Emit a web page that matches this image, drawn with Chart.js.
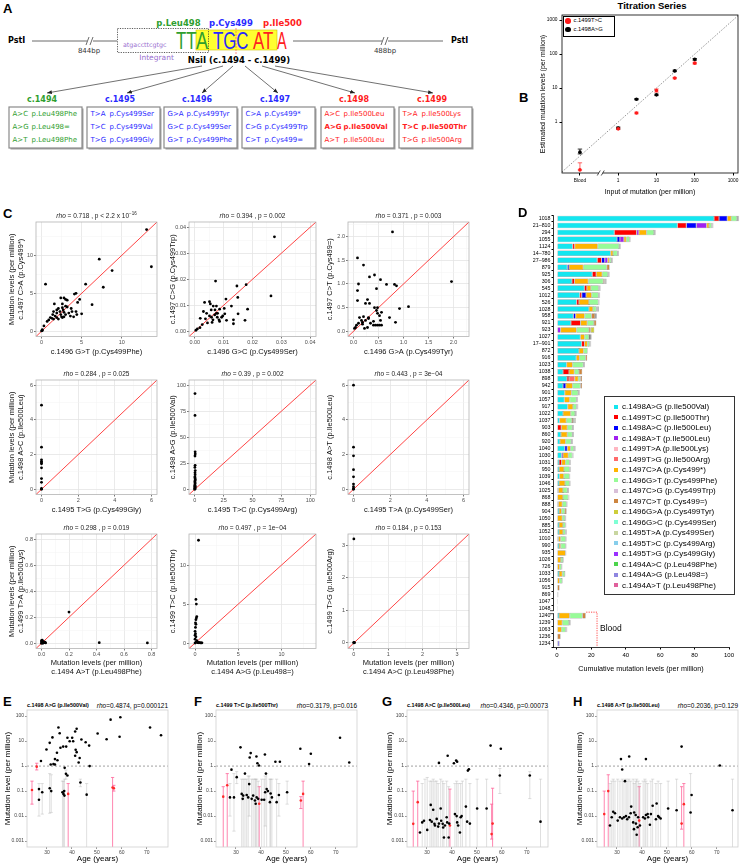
<!DOCTYPE html>
<html>
<head>
<meta charset="utf-8">
<title>Figure</title>
<script src="https://cdn.jsdelivr.net/npm/chart.js@4.4.1/dist/chart.umd.min.js"></script>
<style>
  html, body { margin: 0; padding: 0; background: #fff; }
  #page { position: relative; width: 742px; height: 864px; overflow: hidden; font-family: "Liberation Sans", Arial, sans-serif; }
  .t { position: absolute; white-space: nowrap; line-height: 1; }
  canvas { position: absolute; }
</style>
</head>
<body>
<div id="page">
<svg id="diagram" width="480" height="160" style="position:absolute;left:0;top:0">
  <defs>
    <marker id="head" viewBox="0 0 10 10" refX="10" refY="5" markerWidth="7" markerHeight="7" orient="auto">
      <path d="M0,1 L10,5 L0,9 z" fill="#222"/>
    </marker>
  </defs>
  <line x1="32" y1="41" x2="117" y2="41" stroke="#444" stroke-width="0.8"/>
  <line x1="293" y1="41" x2="443" y2="41" stroke="#444" stroke-width="0.8"/>
  <rect x="87" y="36" width="6" height="10" fill="#fff"/>
  <path d="M86,45 L89,37 M90,45 L93,37" stroke="#444" stroke-width="0.8"/>
  <rect x="382" y="36" width="6" height="10" fill="#fff"/>
  <path d="M381,45 L384,37 M385,45 L388,37" stroke="#444" stroke-width="0.8"/>
  <rect x="196" y="30" width="81" height="20" fill="#ffff30" stroke="#cfc200" stroke-width="0.6"/>
  <rect x="117.5" y="28.5" width="91" height="24" fill="none" stroke="#333" stroke-width="0.8" stroke-dasharray="1.2,1.2"/>
  <line x1="236" y1="28" x2="236" y2="54" stroke="#ff5a5a" stroke-width="0.7" stroke-dasharray="2,1"/>
  <g stroke="#333" stroke-width="0.7" marker-end="url(#head)">
    <line x1="202" y1="66" x2="47" y2="93"/>
    <line x1="223" y1="66" x2="127" y2="93"/>
    <line x1="233" y1="66" x2="202" y2="93"/>
    <line x1="245" y1="66" x2="278" y2="93"/>
    <line x1="262" y1="66" x2="355" y2="93"/>
    <line x1="275" y1="66" x2="433" y2="93"/>
  </g>
  <g id="boxes"></g>
</svg>
</div>
<script>
// ---------- Panel B: titration series ----------
const bInput = [0.1, 1, 3, 10, 30, 100];          // 0.1 is the "Blood" slot
const bT1499C = [0.039, 0.63, 1.85, 8.5, 19.6, 54];
const bT1499CLo = [0.039, 0.6, 1.75, 7.6, 18.8, 51];
const bT1499CHi = [0.063, 0.67, 1.95, 9.4, 20.5, 57];
const bA1498G = [0.13, 0.67, 4.7, 6.3, 32, 70];
const bA1498GLo = [0.115, 0.63, 4.5, 6.0, 30.5, 66];
const bA1498GHi = [0.16, 0.71, 4.9, 6.6, 33.5, 74];
const bXTicks = [0.1, 1, 10, 100, 1000];
const bYTicks = [1, 10, 100, 1000];

// ---------- Panel C: pairwise scatter ----------
const c11x = [13.1,7.2,8.8,13.7,7.7,5.5,0.5,6.3,4.3,4.1,4.75,5.0,4.0,3.6,4.3,2.4,2.8,3.0,3.2,2.6,1.6,3.0,3.2,2.6,2.1,1.9,1.5,2.3,2.8,3.4,1.4,1.7,2.4,2.5,2.6,2.8,1.9,1.1,1.3,0.9,1.5,2.1,0.7,0.3,0.1,0,0.1,3.7,4.4,3.0,3.8,2.7,1.9,4.5];
const c11y = [13.4,9.5,8.0,8.5,5.8,6.2,6.2,3.5,5.0,4.9,4.2,2.3,1.9,2.0,2.6,4.4,4.4,4.2,4.1,3.6,3.6,3.3,3.2,3.1,3.0,2.8,2.6,2.6,2.5,2.4,2.2,2.0,2.2,1.9,1.8,1.9,1.8,1.8,1.7,1.5,1.6,1.6,1.3,0.7,0.2,0.05,0.1,3.0,2.2,2.2,2.6,2.8,2.4,3.8];
const c12x = [0.0276,0.0072,0.0146,0.0178,0.0264,0.0149,0.0108,0.0034,0.0051,0.0054,0.0064,0.0075,0.0127,0.0102,0.0183,0.0086,0.007,0.0057,0.003,0.0041,0.0079,0.0104,0.0069,0.0051,0.015,0.0058,0.0078,0.0097,0.0019,0.0037,0.0063,0.0084,0.011,0.0134,0.0134,0.0174,0.0086,0.006,0.0044,0.0026,0.0018,0.0009,0.0004,0.0075,0.0093];
const c12y = [0.0363,0.0193,0.0174,0.0179,0.0136,0.013,0.0124,0.0111,0.0114,0.0105,0.0097,0.0097,0.0097,0.0088,0.0085,0.0085,0.0082,0.0082,0.0076,0.0069,0.0069,0.0067,0.0063,0.0059,0.0067,0.0054,0.0054,0.0059,0.005,0.0048,0.0044,0.0044,0.0042,0.0044,0.0029,0.0042,0.0038,0.0034,0.0032,0.0026,0.0014,0.0009,0.0004,0.0069,0.0054];
const c13x = [0.78,1.96,0.2,0.32,0.42,0.54,0.46,0.66,0.82,0.86,0.28,0.32,0.24,1.1,0.92,0.72,0.84,0.42,0.48,0.46,0.48,0.52,0.54,0.56,0.52,0.48,0.44,0.4,0.4,0.34,0.3,0.2,0.24,0.18,0.28,0.22,0.56,0.08,0.1,0.08,0.08,0.12,0.16,0.06,0.02,0.04,0.1,0.18,0.3];
const c13y = [2.1,1.05,1.4,1.15,1.19,1.09,0.9,0.99,0.99,0.96,0.67,0.59,0.59,0.52,0.48,0.29,0.19,0.5,0.5,0.44,0.38,0.33,0.23,0.13,0.13,0.13,0.13,0.13,0.21,0.17,0.27,0.31,0.23,0.15,0.08,0.06,0.4,1.55,1.0,0.86,0.65,0.29,0.23,0.13,0.06,0.08,0.17,0.19,0.29];
const c21x = [0,0,0,0,0,0,0,0,0,0,0];
const c21y = [4.85,2.43,1.7,1.6,1.53,1.47,1.24,0.62,0.4,0.05,0];
const c22x = [0.2,0.2,0.3,0.4,0.2,0.3,0.1,0.4,0.2,0.3,0.1,0.2,0.3,0.4,0.2,0.1,0.3,0.2,0.1,0.2,0.3,0.1,0.2,0,0.1];
const c22y = [92,71,36,34,32,23,21,18,16,14,12,11,10,9,8,7,6,5,4,3,2.5,2,1,0.5,0];
const c23x = [0,0,0,0,0,0,0,0,0];
const c23y = [6.0,2.43,1.93,1.13,0.72,0.3,0.15,0.05,0];
const c31x = [0.2,0.42,0.77,0,0,0.01,0.02,0.03,0,0.01,0.005,0.015,0.025,0.01];
const c31y = [0.24,0.005,0.003,0.02,0.01,0.015,0.005,0.003,0,0,0.025,0.01,0.008,0.005];
const c32x = [0.4,0.1,0.15,0.2,0.15,0.1,0.05,0.1,0.05,0,0.05,0,0.1,0,0.2,0.3,0.5,0.6,0.3,0.1,0,0.7,0.8,0.45];
const c32y = [13.2,5.6,5.0,3.4,3.2,3.0,2.6,2.4,2.0,1.5,1.2,1.0,0.8,0.5,0.3,0.1,0.05,0.03,0.05,0.1,0,0.02,0.03,0.04];
const c33x = [0,0,0,0.02];
const c33y = [3.2,0.02,0,0.01];

// ---------- Panel D: cumulative levels per sample ----------
const dLabels = ['1018','21–810','294','1055','1124','14–780','27–986','879','925','306','545','1012','526','1028','958','921','923','1027','17–901','872','916','1023','1038','898','942','901','1057','917','1022','1037','903','860','920','1040','1030','1031','950','1039','1046','1025','868','888','904','1050','885','1052','1010','990','935','1026','726','1033','1056','915','869','1047','1048','1240','1239','1063','1236','1234'];
const dAG98 = [91.3,70,33.3,34.9,9.1,31.2,23.4,6,20.5,8.7,15.9,13.2,11.4,18.6,9.5,8.1,0,13.6,14.3,12.8,11.2,5.6,3.5,5.8,3.5,4.5,4.3,6.2,3.5,1.5,0,2.3,1.7,4.5,2.7,1.2,1.2,1.5,1.2,0.8,0,0.8,1.2,0,1.2,1.2,0.8,1.2,0,0,0,1.2,0,0,0,0,0,1.2,0,0,0,0];
const dTC99 = [2.9,5.2,13,0,1.2,0,2.5,0,2.3,1.5,1.5,1.2,1.4,0,0,5.6,0,0,1.7,0,0,0,3.5,1.2,0,0,0,0,0,0,2.5,0,0,0,0,1.5,0,0,0,0,0,0,0,0,0,0,0,0,0,0,0,0,0,0,0,0,0,0,0,0,0,0];
const dAC98 = [4.8,5.8,0,1.7,0,0,1.9,1,0,0,0,2.5,0,0,1.4,0,0,0,0,0,0,0,0,0,1.7,0,0,0,0,0,0,0,0,1.5,0,0,0,0,0,0,0,0,0,0,0,0,0,0,0,0,0,0,0,0,0,0,0,0,0,0,0,0];
const dAT98 = [0,6,1.3,2.3,0,0,1.7,0,0,0,0,0,0,0,0,0,2.1,0,0,0,0,0,0,0,0,0,0,0,0,0,0,0,0,0,0.8,0,0,0,0,0,0,0,0,0,0,0,0,0,0,0,0,0,0,0,0,0,0,0,0,0,0,0];
const dTG99 = [0,0,0,0,0,0,0,0,0,0,0,0,0,0,0,0,0,0,0,0,0,0,0,3.3,0,0,0,0,0,0,0,0,0,0,0,0,0,0,0,0,0,0,0,0,0,0,0,0,0,0,0,0,0,0,0,0,0,0,0,0,0,0];
const dCA97 = [2.3,1.4,4.5,1.4,13.4,1.4,1.0,8.3,3.5,8,2.3,3.3,5.8,2.3,5.2,3.9,9.3,2.5,1.7,2.7,1.9,3.5,3.1,2.1,3.9,3.9,3.1,3.1,4.5,3.9,3.5,3.7,3.3,1.9,3.1,2.3,2.9,2.5,3.5,2.7,3.5,2.3,1.5,3.1,2.3,2.3,1.4,1.0,5.0,2.3,1.5,1.9,1.5,0,0,0,0,6.2,3.1,2.7,0,0];
const dGT96 = [3.3,1.5,4.3,1.9,12.4,2.5,1.0,13.6,3.3,8.7,4.6,3.9,5.4,2.0,4.0,3.9,7.2,2.5,1.2,2.3,3.5,6.2,2.7,1.2,4.5,3.9,3.9,2.1,2.5,3.3,2.9,2.9,3.3,1.9,2.3,2.3,3.3,3.3,2.7,2.5,3.1,2.5,1.9,1.5,1.5,1.5,2.9,2.9,0,1.2,1.2,1.5,1.5,0,0,0,0,7.4,3.9,2.3,0,0];
const dCT97 = [0.5,0.4,0.4,0.3,0.4,0.4,0.4,1.7,0.4,0.8,0.4,0.4,0.3,0.6,2.0,1.4,1.0,0.6,0.4,0,1.0,0.4,1.9,1.0,1.0,0.4,0.4,0.4,0.4,0.8,0.4,0.4,0.4,0.4,0.3,0.3,0.3,0.2,0.2,0.4,0.2,0.2,1.0,0.3,0.2,0.3,0.2,0.2,0.2,0.2,0.2,0.2,0.2,1.5,0.3,0.1,0.1,1.9,0.4,0.4,2.1,0];
const dGA96 = [0.4,0.3,0.3,0.2,0.3,0.3,0.3,0,0.3,0.6,0.3,0.3,0.3,0.5,0.5,0,2.1,0.5,0.3,0,0,0.3,0,0,0,0.3,0.3,0.3,0.3,0.6,0.3,0.3,0.3,0.3,0.3,0.3,0.3,0.2,0.2,0.3,0.2,0.2,0,0.3,0.2,0.3,0.2,0.2,0.2,0.2,0.2,0.1,0.2,0,0.3,0.1,0.05,0,0.3,0.3,0,0];
const dTA95 = [0.4,0.3,0.3,0.2,0.3,0.3,0.3,0,0.3,0.5,0.3,0.3,0.2,0.4,0.5,0,0,0.4,0.3,0,0,0.3,0,0,0,0.3,0.3,0.3,0.3,0.8,0.3,0.3,0.3,0.3,0.2,0.2,0.2,0.1,0.2,0.3,0.2,0.2,0,0.2,0.1,0.2,0.2,0.1,0.1,0.2,0.1,0.1,0.1,0,0.2,0.1,0.05,0,0.3,0.3,0,0];
const dAG94 = [0,0,0,0,0,0,0,0,0,0,0,0,0,0,0,0,0,0,0,0,0,0,0,0,0,0,0,0,0,0,0,0,0,0,0,0,0,0,0,0,0,0,0,0,0,0,0,0,0,0,0,0,0,0,0,0,0,0,0,0,0,1.5];
const dNone = dLabels.map(() => 0);   // variants with no visible contribution
const dNames = ['c.1498A>G (p.Ile500Val)','c.1499T>C (p.Ile500Thr)','c.1498A>C (p.Ile500Leu)','c.1498A>T (p.Ile500Leu)','c.1499T>A (p.Ile500Lys)','c.1499T>G (p.Ile500Arg)','c.1497C>A (p.Cys499*)','c.1496G>T (p.Cys499Phe)','c.1497C>G (p.Cys499Trp)','c.1497C>T (p.Cys499=)','c.1496G>A (p.Cys499Tyr)','c.1496G>C (p.Cys499Ser)','c.1495T>A (p.Cys499Ser)','c.1495T>C (p.Cys499Arg)','c.1495T>G (p.Cys499Gly)','c.1494A>C (p.Leu498Phe)','c.1494A>G (p.Leu498=)','c.1494A>T (p.Leu498Phe)'];
const dSeries = [dAG98, dTC99, dAC98, dAT98, dNone, dTG99, dCA97, dGT96, dNone, dCT97, dGA96, dNone, dTA95, dNone, dNone, dNone, dAG94, dNone];
const dColors = ['#14e6ef','#ff0000','#0000ff','#a020f0','#ffb6c1','#ff6a6a','#ffb400','#98fb98','#d8bfd8','#cd853f','#cdcd3a','#7fffd4','#c8d6a0','#87ceeb','#9b30ff','#4cd44c','#8f86e0','#e0609c'];
const dXTicks = [0, 20, 40, 60, 80, 100];

// ---------- Panels E-H: level vs age ----------
const ehXTicks = [30, 40, 50, 60, 70];
const ehYTicks = [0.001, 0.01, 0.1, 1, 10, 100];

const eAge = [55.5,59.4,71.3,75.7,59.1,53.9,50.3,34.6,35.1,32.2,31.1,29.8,27.6,38.2,40.1,41.9,41.3,43.8,45.5,46.9,39.1,40.5,36.5,37.7,35.4,34.0,41.5,41.9,41.3,43.1,42.7,33.2,34.2,32.6,31.5,33.2,37.1,47.1,26.8,26.8,28.1,31.1,31.7,36.2,36.6,37.0,36.9,37.6,38.2,43.4,45.9];
const eVal = [72,90,35,17,15,11.8,20,35,20.5,14,8.5,4.6,1.6,13.5,13.5,31,24,11.5,9,6.6,9.8,9.8,6.0,6.0,5.4,3.4,4.5,3.6,2.6,2.1,1.4,1.9,1.7,1.2,1.15,1.15,0.85,1.0,0.045,0.12,0.09,0.13,0.1,0.09,0.077,0.066,0.1,0.49,0.42,0.22,0.072];
const ePinkAge = [24.0,25.9,38.5,56.3,56.8];
const ePinkVal = [0.11,0.95,0.077,0.14,0.13];
const ePinkLo = [0.03,0.7,0,0,0.1];
const ePinkHi = [0.25,1.3,0.2,0.35,0.17];
const eBarAge = [26.8,28.1,31.1,31.7,36.2,36.6,37.0,37.6,43.4,45.9];
const eBarLo = [0.01,0.012,0.013,0.014,0,0,0,0.3,0.15,0];
const eBarHi = [0.2,0.2,0.5,0.45,0.25,0.25,0.3,0.7,0.3,0.2];

const fAge = [31.8,35.9,35.5,38.2,41.6,38.6,39.2,45.8,47.6,55.8,60.0,59.3,71.7,75.4,28.2,27.6,29.2,30.3,32.3,32.9,32.7,34.3,34.9,35.3,36.3,36.9,37.6,37.9,38.3,38.9,40.3,41.3,41.7,42.3,42.8,43.6,43.9,44.4,46.3,47.2,50.5,33.6,42.0];
const fVal = [5.6,3.3,2.2,2.4,2.9,1.3,1.05,1.5,1.5,4.9,3.1,1.2,13.5,1.4,0.72,0.056,0.056,0.36,0.077,0.066,0.049,0.07,0.056,0.19,0.049,0.066,0.042,0.031,0.056,0.049,0.045,0.045,0.09,0.12,0.1,0.036,0.08,0.056,0.036,0.07,0.09,0.5,0.5];
const fPinkAge = [24.9,26.5,39.3,56.0,56.9];
const fPinkVal = [0.06,0.17,0.031,0.042,0.077];
const fPinkLo = [0,0,0,0.02,0];
const fPinkHi = [0.15,0.5,0.15,0.06,0.25];
const fBarAge = [27.6,29.2,30.3,32.3,32.9,33.6,34.3,34.9,35.3,36.3,36.9,37.6,37.9,38.3,38.9,40.3,41.3,41.7,42.3,43.6,43.9,44.4,46.3,47.2,50.5];
const fBarLo = [0.01,0.0025,0.2,0,0,0,0,0,0.01,0,0,0,0,0,0,0,0,0.004,0,0,0,0,0,0.01,0.03];
const fBarHi = [0.2,0.5,0.6,0.3,0.3,0.3,0.3,0.4,0.4,0.3,0.3,0.3,0.3,0.3,0.25,0.3,0.3,0.4,0.5,0.3,0.3,0.3,0.3,0.2,0.25];

const gAge = [34.8,38.3,40.8,41.7,42.1,55.5,59.6,46.8,27.2,28.1,28.8,30.1,31.5,31.2,31.9,32.5,33.0,33.2,33.9,34.5,34.8,35.5,35.7,36.3,36.5,36.8,37.2,37.9,38.1,38.7,38.9,41.2,41.9,42.1,42.5,43.5,43.9,43.2,45.6,46.1,47.2,50.1,53.9,59.2,71.2,75.5,46.4];
const gVal = [1.34,2.6,1.3,1.66,1.5,6.6,4.9,0.75,0.0022,0.0056,0.0065,0.0028,0.028,0.007,0.006,0.018,0.0049,0.0042,0.0077,0.0038,0.005,0.02,0.0065,0.0049,0.0035,0.0014,0.0042,0.009,0.0056,0.0014,0.005,0.012,0.01,0.0056,0.0042,0.009,0.01,0.0022,0.024,0.006,0.005,0.02,0.02,0.42,0.42,0.006,0.66];
const gPinkAge = [24.5,26.3,39.2,55.9,56.3];
const gPinkVal = [0.0049,0.036,0.0042,0.0019,0.005];
const gPinkLo = [0,0,0,0.0012,0];
const gPinkHi = [0.1,0.25,0.12,0.03,0.13];
const gBarAge = [28.1,29.2,30.1,31.2,31.9,32.5,33.2,33.9,34.5,35.5,36.3,36.8,37.9,38.7,41.2,41.9,42.5,43.5,44.2,45.6,47.2,50.1,53.9,59.2,71.2,75.5];
const gBarLo = [0,0,0,0,0,0,0,0,0,0,0,0,0,0,0,0,0,0,0,0,0,0,0,0.08,0.05,0];
const gBarHi = [0.2,0.3,0.35,0.25,0.25,0.3,0.25,0.25,0.2,0.3,0.25,0.2,0.25,0.15,0.2,0.25,0.2,0.2,0.25,0.3,0.2,0.3,0.3,0.8,0.6,0.3];

const hAge = [31.6,34.9,41.6,55.9,71.2,32.1,27.2,27.9,28.5,29.2,30.3,31.2,32.1,32.8,33.2,33.6,34.1,34.8,35.5,35.7,36.5,36.8,36.9,37.5,37.6,37.9,38.3,38.5,39.2,40.5,41.2,41.6,42.3,42.5,43.2,43.6,44.3,45.6,45.9,46.5,46.9,47.5,50.5,53.9,59.5,59.9,76.3];
const hVal = [1.9,2.4,1.9,6.0,1.05,0.73,0.0042,0.009,0.015,0.013,0.0066,0.009,0.008,0.009,0.25,0.01,0.0075,0.009,0.013,0.024,0.0056,0.003,0.014,0.011,0.005,0.0018,0.0036,0.009,0.0042,0.009,0.008,0.011,0.012,0.009,0.0045,0.012,0.026,0.0075,0.032,0.01,0.009,0.008,0.02,0.017,0.014,0.07,0.017];
const hPinkAge = [24.9,26.5,38.9,55.9,56.8];
const hPinkVal = [0.012,0.1,0.0066,0.005,0.03];
const hPinkLo = [0,0,0,0.003,0];
const hPinkHi = [0.1,0.45,0.15,0.15,0.2];
const hBarAge = [27.2,27.9,28.5,29.2,30.3,31.2,32.1,32.8,33.6,34.1,34.8,35.5,36.5,36.9,37.5,37.9,38.5,39.2,40.5,41.2,41.6,42.3,43.6,44.3,45.6,46.5,47.5,50.5,53.9,59.5,76.3];
const hBarLo = [0,0,0,0,0,0,0,0,0,0,0,0,0,0,0,0,0,0,0,0,0,0,0,0,0,0,0,0,0,0,0];
const hBarHi = [0.2,0.25,0.3,0.25,0.3,0.25,0.3,0.25,0.3,0.25,0.3,0.25,0.3,0.2,0.25,0.3,0.25,0.2,0.25,0.3,0.25,0.2,0.25,0.3,0.2,0.25,0.2,0.25,0.3,0.5,0.3];

// ---------- helpers ----------
Chart.defaults.font.family = "'Liberation Sans', Arial, sans-serif";
Chart.defaults.color = '#000';
const page = document.getElementById('page');

function put(html, x, y, css, anchor, extra) {
  const d = document.createElement('div');
  d.className = 't';
  d.innerHTML = html;
  d.style.cssText = css || '';
  d.style.left = x + 'px';
  d.style.top = y + 'px';
  const ax = anchor === 'l' ? '0' : anchor === 'r' ? '-100%' : '-50%';
  d.style.transform = 'translate(' + ax + ',-50%)' + (extra || '');
  page.appendChild(d);
  return d;
}

// box: plot area l,t,r,b ; wy = y-axis width ; hx = x-axis height ; pt/pr = spare room top/right
function makeChart(box, config) {
  const left = box.l - box.wy, top = box.t - box.pt;
  const w = Math.round(box.r + box.pr - left), h = Math.round(box.b + box.hx - top);
  const cv = document.createElement('canvas');
  cv.width = w; cv.height = h;
  cv.style.left = left + 'px'; cv.style.top = top + 'px';
  cv.style.width = w + 'px'; cv.style.height = h + 'px';
  page.appendChild(cv);
  const o = config.options;
  o.responsive = false; o.animation = false; o.devicePixelRatio = 1;
  o.layout = {padding: {top: box.pt, right: box.pr, left: 0, bottom: 0}};
  o.plugins = Object.assign({legend: {display: false}, tooltip: {enabled: false}}, o.plugins || {});
  const zero = s => { s.paddingLeft = s.paddingRight = s.paddingTop = s.paddingBottom = 0; };
  o.scales.x.afterFit = s => { s.height = box.hx; zero(s); };
  o.scales.y.afterFit = s => { s.width = box.wy; zero(s); };
  return new Chart(cv, config);
}

const setTicks = vals => s => { s.ticks = vals.map(v => ({value: v})); };

const frame = (color, width) => ({
  id: 'frame',
  afterDatasetsDraw(chart) {
    const {ctx, chartArea: a} = chart;
    ctx.save();
    ctx.strokeStyle = color; ctx.lineWidth = width;
    ctx.strokeRect(a.left, a.top, a.right - a.left, a.bottom - a.top);
    ctx.restore();
  }
});

const diag = (color, width, dash) => ({
  id: 'diag',
  beforeDatasetsDraw(chart) {
    const {ctx, chartArea: a, scales: {x, y}} = chart;
    const v0 = Math.max(x.min, y.min), v1 = Math.min(x.max, y.max);
    ctx.save();
    ctx.beginPath(); ctx.rect(a.left, a.top, a.right - a.left, a.bottom - a.top); ctx.clip();
    ctx.strokeStyle = color; ctx.lineWidth = width; ctx.setLineDash(dash || []);
    ctx.beginPath();
    ctx.moveTo(x.getPixelForValue(v0), y.getPixelForValue(v0));
    ctx.lineTo(x.getPixelForValue(v1), y.getPixelForValue(v1));
    ctx.stroke();
    ctx.restore();
  }
});

// vertical interval bars stored on datasets as errLo / errHi (0 = down to the axis floor)
const errBars = {
  id: 'errBars',
  beforeDatasetsDraw(chart) {
    const {ctx, chartArea: a, scales: {x, y}} = chart;
    chart.data.datasets.forEach(ds => {
      if (!ds.errLo) return;
      ctx.save();
      ctx.strokeStyle = ds.errColor; ctx.lineWidth = ds.errWidth || 1;
      ds.data.forEach((p, i) => {
        const lo = ds.errLo[i], hi = ds.errHi[i];
        if (lo == null) return;
        const px = x.getPixelForValue(p.x);
        const y1 = lo > 0 ? Math.min(y.getPixelForValue(lo), a.bottom) : a.bottom;
        const y2 = Math.max(y.getPixelForValue(hi), a.top);
        const c = ds.errCap || 0;
        ctx.beginPath();
        ctx.moveTo(px, y1); ctx.lineTo(px, y2);
        if (c) {
          ctx.moveTo(px - c, y2); ctx.lineTo(px + c, y2);
          if (lo > 0) { ctx.moveTo(px - c, y1); ctx.lineTo(px + c, y1); }
        }
        ctx.stroke();
      });
      ctx.restore();
    });
  }
};

// ---------- Panel A (diagram, plain HTML/SVG) ----------
const aFont = "font-family:'DejaVu Sans',Verdana,sans-serif;";
const green = '#2e9e2e', blue = '#2a2aff', red = '#ff2020';
const aBoxes = [
  {x: 9, head: 'c.1494', col: green, rows: [['A>C','p.Leu498Phe'],['A>G','p.Leu498='],['A>T','p.Leu498Phe']], bold: -1},
  {x: 87, head: 'c.1495', col: blue, rows: [['T>A','p.Cys499Ser'],['T>C','p.Cys499Val'],['T>G','p.Cys499Gly']], bold: -1},
  {x: 164, head: 'c.1496', col: blue, rows: [['G>A','p.Cys499Tyr'],['G>C','p.Cys499Ser'],['G>T','p.Cys499Phe']], bold: -1},
  {x: 242, head: 'c.1497', col: blue, rows: [['C>A','p.Cys499*'],['C>G','p.Cys499Trp'],['C>T','p.Cys499=']], bold: -1},
  {x: 321, head: 'c.1498', col: red, rows: [['A>C','p.Ile500Leu'],['A>G','p.Ile500Val'],['A>T','p.Ile500Leu']], bold: 1},
  {x: 399, head: 'c.1499', col: red, rows: [['T>A','p.Ile500Lys'],['T>C','p.Ile500Thr'],['T>G','p.Ile500Arg']], bold: 1}
];
let boxSvg = '';
aBoxes.forEach(b => {
  boxSvg += `<rect x="${b.x + 1.5}" y="108.5" width="73" height="41" fill="#a0a0a0"/>`;
  boxSvg += `<rect x="${b.x}" y="107" width="73" height="41" fill="#fff" stroke="#8a8a8a" stroke-width="1.2"/>`;
});
document.getElementById('boxes').innerHTML = boxSvg;
aBoxes.forEach(b => {
  put(b.head, b.x + 33, 100, aFont + 'font-size:8px;font-weight:bold;color:' + b.col, 'c');
  b.rows.forEach((r, i) => {
    const y = 113.5 + i * 13.3;
    const w = i === b.bold ? 'font-weight:bold;' : '';
    put(r[0], b.x + 3.5, y, aFont + 'font-size:7px;color:' + b.col + ';' + w, 'l');
    put(r[1], b.x + 22.5, y, aFont + 'font-size:7px;color:' + b.col + ';' + w, 'l');
  });
});
put('A', 3, 8, 'font-size:13px;font-weight:bold', 'l');
put('PstI', 8, 41, aFont + 'font-size:8px;font-weight:bold', 'l');
put('PstI', 451, 41, aFont + 'font-size:8px;font-weight:bold', 'l');
put('844bp', 89, 51, aFont + 'font-size:7px;color:#333', 'c');
put('488bp', 385, 51, aFont + 'font-size:7px;color:#333', 'c');
put('atgaccttcgtgc', 123, 45, aFont + 'font-size:6.3px;color:#9a6fd0', 'l');
put('Integrant', 156.5, 57.5, aFont + 'font-size:7.5px;color:#9a6fd0', 'c');
const big = "font-family:'Liberation Sans',Arial,sans-serif;font-size:23px;transform-origin:left center;";
put('TT', 176, 41, big + 'color:' + green, 'l', ' scaleX(0.73)');
put('A', 196, 41, big + 'color:' + green, 'l', ' scaleX(0.78)');
put('TGC', 213, 41, big + 'color:' + blue, 'l', ' scaleX(0.73)');
put('AT', 253, 41, big + 'color:' + red, 'l', ' scaleX(0.73)');
put('A', 277, 41, big + 'color:' + red, 'l', ' scaleX(0.63)');
put('p.Leu498', 178.5, 23, aFont + 'font-size:8.5px;font-weight:bold;color:' + green, 'c');
put('p.Cys499', 231, 23, aFont + 'font-size:8.5px;font-weight:bold;color:' + blue, 'c');
put('p.Ile500', 282.5, 23, aFont + 'font-size:8.5px;font-weight:bold;color:' + red, 'c');
put('NsiI (c.1494 - c.1499)', 239, 59.5, aFont + 'font-size:8.5px;font-weight:bold', 'c');

// ---------- Panel B ----------
put('B', 519, 97, 'font-size:13px;font-weight:bold', 'l');
put('Titration Series', 652, 6, 'font-size:9.5px;font-weight:bold', 'c');
makeChart({l: 562, t: 15, r: 739, b: 173, wy: 32, hx: 27, pt: 5, pr: 3}, {
  type: 'scatter',
  data: {datasets: [
    {label: 'c.1499T>C', data: bInput.map((v, i) => ({x: v, y: bT1499C[i]})), backgroundColor: '#ff1a1a', borderWidth: 0, pointRadius: 1.8,
     errLo: bT1499CLo, errHi: bT1499CHi, errColor: '#ff4040', errCap: 2.2, errWidth: 0.8},
    {label: 'c.1498A>G', data: bInput.map((v, i) => ({x: v, y: bA1498G[i]})), backgroundColor: '#000', borderWidth: 0, pointRadius: 1.8,
     errLo: bA1498GLo, errHi: bA1498GHi, errColor: '#000', errCap: 2.2, errWidth: 0.8}
  ]},
  options: {scales: {
    x: {type: 'logarithmic', min: 0.034, max: 1349, afterBuildTicks: setTicks(bXTicks),
        ticks: {font: {size: 4.8}, padding: 2, autoSkip: false, maxRotation: 0, callback: v => v === 0.1 ? 'Blood' : String(v)},
        grid: {drawOnChartArea: false, tickLength: 2.5, color: '#000'}, border: {display: false},
        title: {display: true, text: 'Input of mutation (per million)', font: {size: 7}, padding: {top: 0, bottom: 3.5}}},
    y: {type: 'logarithmic', min: 0.0316, max: 1413, afterBuildTicks: setTicks(bYTicks),
        ticks: {font: {size: 4.8}, padding: 2, autoSkip: false, callback: v => String(v)},
        grid: {drawOnChartArea: false, tickLength: 2.5, color: '#000'}, border: {display: false},
        title: {display: true, text: 'Estimated mutation levels (per million)', font: {size: 7}, padding: {top: 8.8, bottom: 0}}}
  }},
  plugins: [diag('#666', 0.7, [1.5, 1.5]), errBars, frame('#000', 0.8), {
    id: 'axisBreak',
    afterDraw(chart) {
      const {ctx, chartArea: a, scales: {x}} = chart;
      const px = x.getPixelForValue(0.35);
      ctx.save();
      ctx.fillStyle = '#fff'; ctx.fillRect(px - 2, a.bottom - 2, 4, 4);
      ctx.strokeStyle = '#000'; ctx.lineWidth = 0.7;
      ctx.beginPath();
      ctx.moveTo(px - 3.5, a.bottom + 2.5); ctx.lineTo(px - 0.5, a.bottom - 2.5);
      ctx.moveTo(px + 0.5, a.bottom + 2.5); ctx.lineTo(px + 3.5, a.bottom - 2.5);
      ctx.stroke();
      ctx.restore();
    }
  }]
});
const bLeg = document.createElement('div');
bLeg.style.cssText = 'position:absolute;left:563px;top:16px;width:50px;height:19px;border:0.6px solid #000;background:#fff';
page.appendChild(bLeg);
put('<span style="display:inline-block;width:5.5px;height:5.5px;border-radius:50%;background:#ff1a1a;margin-right:3px;vertical-align:middle"></span>c.1499T>C', 565, 21, 'font-size:5.8px', 'l');
put('<span style="display:inline-block;width:5.5px;height:5.5px;border-radius:50%;background:#000;margin-right:3px;vertical-align:middle"></span>c.1498A>G', 565, 29.5, 'font-size:5.8px', 'l');

// ---------- Panel C ----------
put('C', 3, 213, 'font-size:13px;font-weight:bold', 'l');
const cCols = [{l: 36, r: 157, wy: 30, tp: 1.5}, {l: 189, r: 316, wy: 22, tp: 1.5}, {l: 348, r: 469, wy: 23, tp: 0.5}];
const cRows = [{t: 222, b: 336}, {t: 380, b: 494}, {t: 534, b: 648}];
const cPanels = [
  {row: 0, col: 0, x: c11x, y: c11y, lim: [-0.69, 14.4], major: [0, 5, 10], minor: [2.5, 7.5, 12.5], dec: 0,
   head: '0.718 , p &lt; 2.2 x 10<sup style="font-size:4.5px">−16</sup>', xt: 'c.1496 G>T (p.Cys499Phe)', yt: ['Mutation levels (per million)', 'c.1497 C>A (p.Cys499*)']},
  {row: 0, col: 1, x: c12x, y: c12y, lim: [-0.002, 0.042], major: [0, 0.01, 0.02, 0.03, 0.04], minor: [0.005, 0.015, 0.025, 0.035], dec: 2,
   head: '0.394 , p = 0.002', xt: 'c.1496 G>C (p.Cys499Ser)', yt: 'c.1497 C>G (p.Cys499Trp)'},
  {row: 0, col: 2, x: c13x, y: c13y, lim: [-0.11, 2.31], major: [0, 0.5, 1, 1.5, 2], minor: [0.25, 0.75, 1.25, 1.75, 2.25], dec: 1,
   head: '0.371 , p = 0.003', xt: 'c.1496 G>A (p.Cys499Tyr)', yt: 'c.1497 C>T (p.Cys499=)'},
  {row: 1, col: 0, x: c21x, y: c21y, lim: [-0.3, 6.3], major: [0, 2, 4, 6], minor: [1, 3, 5], dec: 0,
   head: '0.284 , p = 0.025', xt: 'c.1495 T>G (p.Cys499Gly)', yt: ['Mutation levels (per million)', 'c.1498 A>C (p.Ile500Leu)']},
  {row: 1, col: 1, x: c22x, y: c22y, lim: [-5, 105], major: [0, 25, 50, 75, 100], minor: [12.5, 37.5, 62.5, 87.5], dec: 0,
   head: '0.39 , p = 0.002', xt: 'c.1495 T>C (p.Cys499Arg)', yt: 'c.1498 A>G (p.Ile500Val)'},
  {row: 1, col: 2, x: c23x, y: c23y, lim: [-0.3, 6.3], major: [0, 2, 4, 6], minor: [1, 3, 5], dec: 0,
   head: '0.443 , p = 3e−04', xt: 'c.1495 T>A (p.Cys499Ser)', yt: 'c.1498 A>T (p.Ile500Leu)'},
  {row: 2, col: 0, x: c31x, y: c31y, lim: [-0.04, 0.84], major: [0, 0.2, 0.4, 0.6, 0.8], minor: [0.1, 0.3, 0.5, 0.7], dec: 1,
   head: '0.298 , p = 0.019', xt: ['Mutation levels (per million)', 'c.1494 A>T (p.Leu498Phe)'], yt: ['Mutation levels (per million)', 'c.1499 T>A (p.Ile500Lys)']},
  {row: 2, col: 1, x: c32x, y: c32y, lim: [-0.7, 14.0], major: [0, 5, 10], minor: [2.5, 7.5, 12.5], dec: 0,
   head: '0.497 , p = 1e−04', xt: ['Mutation levels (per million)', 'c.1494 A>G (p.Leu498=)'], yt: 'c.1499 T>C (p.Ile500Thr)'},
  {row: 2, col: 2, x: c33x, y: c33y, lim: [-0.17, 3.35], major: [0, 1, 2, 3], minor: [0.5, 1.5, 2.5], dec: 0,
   head: '0.184 , p = 0.153', xt: ['Mutation levels (per million)', 'c.1494 A>C (p.Leu498Phe)'], yt: 'c.1499 T>G (p.Ile500Arg)'}
];
function cAxis(p, title, pad) {
  const isMajor = c => c.tick && p.major.includes(c.tick.value);
  return {
    type: 'linear', min: p.lim[0], max: p.lim[1],
    afterBuildTicks: setTicks(p.major.concat(p.minor).sort((a, b) => a - b)),
    ticks: {font: {size: 5.5}, color: '#4d4d4d', padding: 1, autoSkip: false, maxRotation: 0,
            callback: v => p.major.includes(v) ? v.toFixed(p.dec) : ''},
    grid: {color: c => isMajor(c) ? '#e4e4e4' : '#f2f2f2', lineWidth: c => isMajor(c) ? 0.8 : 0.5,
           tickColor: c => isMajor(c) ? '#555' : 'rgba(0,0,0,0)', tickLength: 2, drawTicks: true},
    border: {display: false},
    title: {display: true, text: title, font: {size: 7.5}, color: '#111', padding: pad}
  };
}
cPanels.forEach(p => {
  const col = cCols[p.col], row = cRows[p.row];
  const twoLine = Array.isArray(p.xt);
  const box = {l: col.l, r: col.r, t: row.t, b: row.b, wy: col.wy, hx: twoLine ? 30.5 : 22.5, pt: 5, pr: 6};
  makeChart(box, {
    type: 'scatter',
    data: {datasets: [{data: p.x.map((v, i) => ({x: v, y: p.y[i]})), backgroundColor: '#000', borderWidth: 0, pointRadius: 1.4}]},
    options: {scales: {x: cAxis(p, p.xt, {top: 0, bottom: 3}), y: cAxis(p, p.yt, {top: col.tp, bottom: 0})}},
    plugins: [diag('#ff3030', 0.9), frame('#b3b3b3', 0.8)]
  });
  put('<i>rho</i> = ' + p.head, (col.l + col.r) / 2, row.t - 6.5, 'font-size:6.5px;color:#222', 'c');
});

// ---------- Panel D ----------
put('D', 518, 212, 'font-size:13px;font-weight:bold', 'l');
const bloodFrom = 17, bloodTo = 23.3;
makeChart({l: 553, t: 215, r: 729, b: 647, wy: 23, hx: 28, pt: 4, pr: 13}, {
  type: 'bar',
  data: {labels: dLabels, datasets: dNames.map((n, i) => ({
    label: n, data: dSeries[i].map(v => v || null), backgroundColor: dColors[i],
    borderColor: '#7a7a7a', borderWidth: 0.5, borderSkipped: false,
    barPercentage: 0.8, categoryPercentage: 1, clip: false
  }))},
  options: {
    indexAxis: 'y',
    scales: {
      x: {stacked: true, min: -2.3, max: 100, afterBuildTicks: setTicks(dXTicks),
          ticks: {font: {size: 6}, padding: 2, maxRotation: 0},
          grid: {drawOnChartArea: false, tickLength: 2.5, color: '#000'}, border: {display: true, color: '#000', width: 0.8},
          title: {display: true, text: 'Cumulative mutation levels (per million)', font: {size: 7.2}, padding: {top: 0, bottom: 2}}},
      y: {stacked: true,
          ticks: {font: {size: 5.3}, padding: 1, autoSkip: false},
          grid: {drawOnChartArea: false, tickLength: 1.5, color: '#000'}, border: {display: true, color: '#000', width: 0.8}}
    }
  },
  plugins: [{
    id: 'blood',
    afterDatasetsDraw(chart) {
      const {ctx, chartArea: a, scales: {x, y}} = chart;
      const step = y.getPixelForValue(1) - y.getPixelForValue(0);
      const top = y.getPixelForValue(56) + step / 2;
      const bot = y.getPixelForValue(61) + step / 2;
      ctx.save();
      ctx.strokeStyle = '#ff2020'; ctx.lineWidth = 0.8; ctx.setLineDash([1.2, 1.2]);
      ctx.beginPath();
      ctx.moveTo(x.getPixelForValue(bloodFrom), top); ctx.lineTo(x.getPixelForValue(bloodTo), top);
      ctx.lineTo(x.getPixelForValue(bloodTo), bot);
      ctx.stroke();
      ctx.setLineDash([]);
      ctx.fillStyle = '#fff'; ctx.fillRect(a.left - 3, top - 1.5, 6, 3);
      ctx.strokeStyle = '#000'; ctx.lineWidth = 0.7;
      ctx.beginPath();
      ctx.moveTo(a.left - 3, top - 1.5); ctx.lineTo(a.left + 1, top - 1.5);
      ctx.moveTo(a.left - 3, top + 1.5); ctx.lineTo(a.left + 1, top + 1.5);
      ctx.stroke();
      ctx.restore();
    }
  }]
});
put('Blood', 600, 628, 'font-size:8.5px', 'l');
const dLeg = document.createElement('div');
dLeg.style.cssText = 'position:absolute;left:604px;top:396px;width:129px;height:197px;border:0.8px solid #333;background:#fff';
page.appendChild(dLeg);
dNames.forEach((n, i) => {
  put('<span style="display:inline-block;width:4px;height:4px;background:' + dColors[i] + ';margin-right:4px;vertical-align:middle"></span>' + n,
      614, 407 + i * 10.5, 'font-size:8px', 'l');
});

// ---------- Panels E-H ----------
const ehPanels = [
  {letter: 'E', lx: 3, l: 27, r: 168, wy: 27, tp: 3.2, name: 'c.1498 A>G (p.Ile500Val)', stat: '=0.4874, p=0.000121',
   age: eAge, val: eVal, pAge: ePinkAge, pVal: ePinkVal, pLo: ePinkLo, pHi: ePinkHi, bAge: eBarAge, bLo: eBarLo, bHi: eBarHi},
  {letter: 'F', lx: 194, l: 216, r: 357, wy: 26, tp: 5.2, name: 'c.1499 T>C (p.Ile500Thr)', stat: '=0.3179, p=0.016',
   age: fAge, val: fVal, pAge: fPinkAge, pVal: fPinkVal, pLo: fPinkLo, pHi: fPinkHi, bAge: fBarAge, bLo: fBarLo, bHi: fBarHi},
  {letter: 'G', lx: 382, l: 407, r: 548, wy: 26, tp: 4.2, name: 'c.1498 A>C (p.Ile500Leu)', stat: '=0.4346, p=0.00073',
   age: gAge, val: gVal, pAge: gPinkAge, pVal: gPinkVal, pLo: gPinkLo, pHi: gPinkHi, bAge: gBarAge, bLo: gBarLo, bHi: gBarHi},
  {letter: 'H', lx: 573, l: 597, r: 738, wy: 26, tp: 4.2, name: 'c.1498 A>T (p.Ile500Leu)', stat: '=0.2036, p=0.129',
   age: hAge, val: hVal, pAge: hPinkAge, pVal: hPinkVal, pLo: hPinkLo, pHi: hPinkHi, bAge: hBarAge, bLo: hBarLo, bHi: hBarHi}
];
ehPanels.forEach(p => {
  put(p.letter, p.lx, 701, 'font-size:13px;font-weight:bold', 'l');
  put(p.name, p.l, 706, 'font-size:5.4px;font-weight:bold', 'l');
  put('<i>rho</i>' + p.stat, p.r, 706, 'font-size:6.5px', 'r');
  makeChart({l: p.l, t: 710, r: p.r, b: 847, wy: p.wy, hx: 17, pt: 4, pr: 4}, {
    type: 'scatter',
    data: {datasets: [
      {data: p.age.map((a, i) => ({x: a, y: p.val[i]})), backgroundColor: '#000', borderWidth: 0, pointRadius: 1.3},
      {data: p.pAge.map((a, i) => ({x: a, y: p.pVal[i]})), backgroundColor: '#ff2a2a', borderWidth: 0, pointRadius: 1.3,
       errLo: p.pLo, errHi: p.pHi, errColor: 'rgba(255,95,150,0.85)', errCap: 1.6, errWidth: 0.9},
      {data: p.bAge.map((a, i) => ({x: a, y: p.bHi[i]})), pointRadius: 0,
       errLo: p.bLo, errHi: p.bHi, errColor: 'rgba(175,175,175,0.4)', errCap: 1.6, errWidth: 1}
    ]},
    options: {scales: {
      x: {type: 'linear', min: 22, max: 78.5, afterBuildTicks: setTicks(ehXTicks),
          ticks: {font: {size: 5}, color: '#444', padding: 0.5, maxRotation: 0},
          grid: {drawOnChartArea: false, tickLength: 2, color: '#999'}, border: {display: false},
          title: {display: true, text: 'Age (years)', font: {size: 8}, padding: {top: 0, bottom: 0.9}}},
      y: {type: 'logarithmic', min: 0.00058, max: 175, afterBuildTicks: setTicks(ehYTicks),
          ticks: {font: {size: 5}, color: '#444', padding: 1, autoSkip: false, callback: v => String(v)},
          grid: {drawOnChartArea: false, tickLength: 2, color: '#999'}, border: {display: false},
          title: {display: true, text: 'Mutation level (per million)', font: {size: 8}, padding: {top: p.tp, bottom: 0}}}
    }},
    plugins: [errBars, frame('#cfcfcf', 0.8), {
      id: 'unity',
      beforeDatasetsDraw(chart) {
        const {ctx, chartArea: a, scales: {y}} = chart;
        const py = y.getPixelForValue(1);
        ctx.save();
        ctx.strokeStyle = '#777'; ctx.lineWidth = 0.7; ctx.setLineDash([2, 2]);
        ctx.beginPath(); ctx.moveTo(a.left, py); ctx.lineTo(a.right, py); ctx.stroke();
        ctx.restore();
      }
    }]
  });
});
</script>
</body>
</html>
